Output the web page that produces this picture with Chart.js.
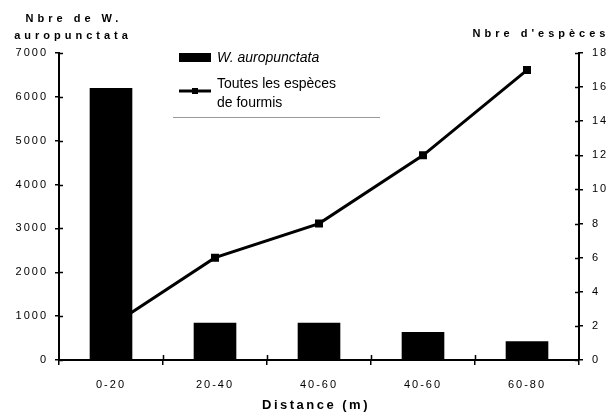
<!DOCTYPE html>
<html>
<head>
<meta charset="utf-8">
<script src="https://cdn.jsdelivr.net/npm/chart.js@4"></script>
<style>
  html, body { margin: 0; padding: 0; background: #fff; }
  #wrap { width: 611px; height: 412px; }
</style>
</head>
<body>
<div id="wrap"><canvas id="fourmisChart"></canvas></div>
<script>
const categories = ['0-20', '20-40', '40-60', '40-60', '60-80'];
const nbreWauro = [6200, 850, 850, 640, 430];
const nbreEspeces = [2, 6, 8, 12, 17];
const leftTicks = [0, 1000, 2000, 3000, 4000, 5000, 6000, 7000];
const rightTicks = [0, 2, 4, 6, 8, 10, 12, 14, 16, 18];

const FONT = "'Liberation Sans', Arial, sans-serif";

// titles, legend and the inner half of the tick marks
const decor = {
    id: 'decor',
    beforeDraw(chart) {
        chart.ctx.letterSpacing = '2px';
    },
    afterDatasetsDraw(chart) {
        chart.ctx.letterSpacing = '4px';
    },
    afterDraw(chart) {
        const ctx = chart.ctx;
        const area = chart.chartArea;
        const y = chart.scales.y, y1 = chart.scales.y1, x = chart.scales.x;
        ctx.save();

        // inner tick halves
        ctx.strokeStyle = '#000';
        ctx.lineWidth = 1.5;
        ctx.beginPath();
        leftTicks.forEach(v => {
            const p = Math.round(y.getPixelForValue(v)) + 0.5;
            ctx.moveTo(area.left, p); ctx.lineTo(area.left + 4, p);
        });
        rightTicks.forEach(v => {
            const p = Math.round(y1.getPixelForValue(v)) + 0.5;
            ctx.moveTo(area.right - 4, p); ctx.lineTo(area.right, p);
        });
        const step = x.getPixelForValue(1) - x.getPixelForValue(0);
        for (let i = 1; i < categories.length; i++) {
            const p = Math.round(x.getPixelForValue(i) - step / 2) + 0.5;
            ctx.moveTo(p, area.bottom); ctx.lineTo(p, area.bottom - 5);
        }
        ctx.stroke();

        // axis titles
        ctx.fillStyle = '#000';
        ctx.textAlign = 'center';
        ctx.textBaseline = 'middle';
        ctx.letterSpacing = '4px';
        ctx.font = 'bold 11px ' + FONT;
        ctx.fillText('Nbre de W.', 74, 19);
        ctx.fillText('auropunctata', 73, 36);
        ctx.fillText("Nbre d'espèces", 541, 34);
        ctx.letterSpacing = '2.5px';
        ctx.font = 'bold 13px ' + FONT;
        ctx.fillText('Distance (m)', 316, 405);

        // legend
        ctx.letterSpacing = '0px';
        ctx.textAlign = 'left';
        ctx.fillRect(179, 53, 32, 9);
        ctx.font = 'italic 14px ' + FONT;
        ctx.fillText('W. auropunctata', 217, 58);
        ctx.lineWidth = 3;
        ctx.beginPath();
        ctx.moveTo(179, 91); ctx.lineTo(211, 91);
        ctx.stroke();
        ctx.fillRect(192, 88, 6, 6);
        ctx.font = '14px ' + FONT;
        ctx.fillText('Toutes les espèces', 217, 84);
        ctx.fillText('de fourmis', 217, 103);
        ctx.strokeStyle = '#999';
        ctx.lineWidth = 1;
        ctx.beginPath();
        ctx.moveTo(173, 117.5); ctx.lineTo(380, 117.5);
        ctx.stroke();

        ctx.restore();
        ctx.letterSpacing = '0px';
    }
};

const ctx = document.getElementById('fourmisChart').getContext('2d');
const fourmisChart = new Chart(ctx, {
    type: 'bar',
    data: {
        labels: categories,
        datasets: [{
            label: 'W. auropunctata',
            data: nbreWauro,
            backgroundColor: '#000',
            borderWidth: 0,
            categoryPercentage: 1,
            barPercentage: 0.41,
            yAxisID: 'y',
            order: 1
        }, {
            type: 'line',
            label: 'Toutes les espèces de fourmis',
            data: nbreEspeces,
            borderColor: '#000',
            backgroundColor: '#000',
            borderWidth: 3,
            pointStyle: 'rect',
            pointRadius: 3.5,
            tension: 0,
            yAxisID: 'y1',
            order: 2
        }]
    },
    options: {
        responsive: true,
        maintainAspectRatio: false,
        animation: false,
        layout: { padding: { top: 53, left: 0, right: 0, bottom: 0 } },
        plugins: {
            legend: { display: false },
            tooltip: { enabled: false }
        },
        scales: {
            x: {
                z: 1,
                grid: { drawOnChartArea: false, color: '#000', lineWidth: 1.5, tickLength: 5, offset: true },
                border: { color: '#000', width: 2 },
                ticks: { color: '#000', font: { family: FONT, size: 11 }, padding: 13, maxRotation: 0, autoSkip: false },
                afterFit(scale) { scale.height = 52; }
            },
            y: {
                position: 'left',
                min: 0,
                max: 7000,
                afterBuildTicks(scale) { scale.ticks = leftTicks.map(v => ({ value: v })); },
                grid: { drawOnChartArea: false, color: '#000', lineWidth: 1.5, tickLength: 4 },
                border: { color: '#000', width: 2 },
                ticks: { color: '#000', font: { family: FONT, size: 11 }, padding: 7, callback: v => String(v) },
                afterFit(scale) { scale.width = 59; }
            },
            y1: {
                position: 'right',
                min: 0,
                max: 18,
                afterBuildTicks(scale) { scale.ticks = rightTicks.map(v => ({ value: v })); },
                grid: { drawOnChartArea: false, color: '#000', lineWidth: 1.5, tickLength: 4 },
                border: { color: '#000', width: 2 },
                ticks: { color: '#000', font: { family: FONT, size: 11 }, padding: 9, callback: v => String(v) },
                afterFit(scale) { scale.width = 32; }
            }
        }
    },
    plugins: [decor]
});
</script>
</body>
</html>
